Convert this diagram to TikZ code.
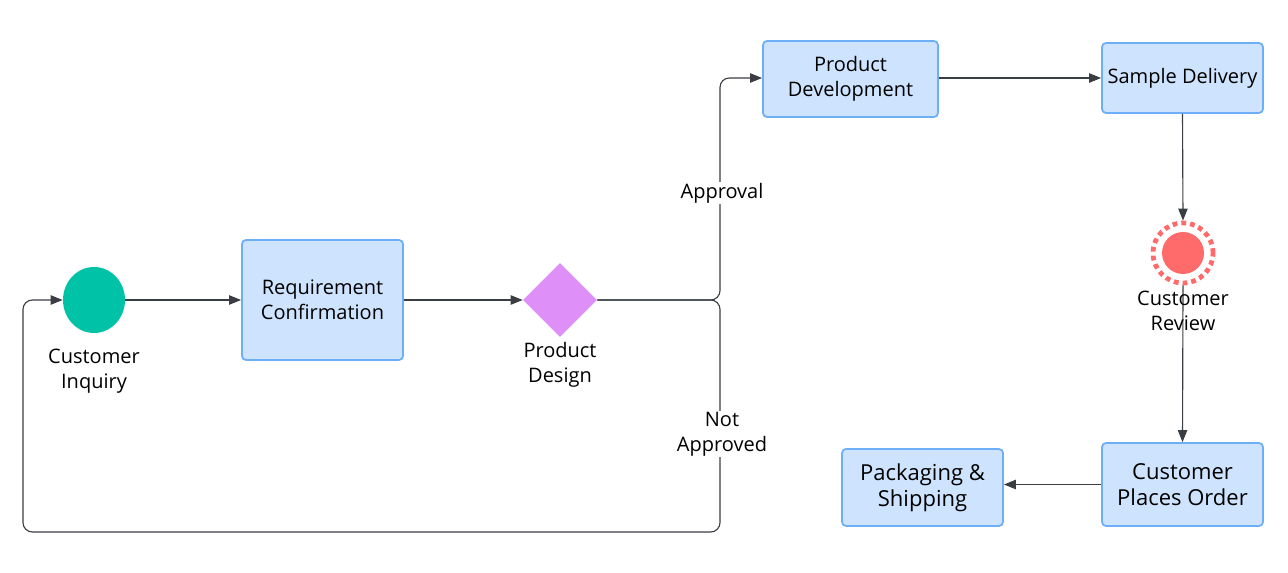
\documentclass[tikz,border=0pt]{standalone}
\usepackage{fontspec}
\setmainfont{Open Sans}
\usetikzlibrary{shapes.geometric,arrows.meta}
\definecolor{boxfill}{HTML}{CEE4FE}
\definecolor{boxdraw}{HTML}{6DAEF8}
\definecolor{teal}{HTML}{00C2A6}
\definecolor{violet}{HTML}{DF8FF8}
\definecolor{revred}{HTML}{FF6B6B}
\definecolor{linec}{HTML}{3A3D42}
\begin{document}
\begin{tikzpicture}[x=0.75pt,y=-0.75pt,
  every node/.style={font=\fontsize{15pt}{18.75pt}\selectfont, align=center, text=black},
  big/.style={font=\fontsize{16.5pt}{19.5pt}\selectfont},
  proc/.style={rectangle, rounded corners=3pt, draw=boxdraw, line width=1.3pt, fill=boxfill, inner sep=0pt},
  flow/.style={draw=linec, line width=0.85pt, -{Triangle[length=9pt,width=7pt]}},
  lbl/.style={fill=white, inner sep=1pt}]
\useasboundingbox (0,0) rectangle (1288,573);

\node[ellipse, fill=teal, inner sep=0pt, minimum width=46.5pt, minimum height=49.5pt] (ci) at (94,300) {};
\node (cil) at (94,371) {Customer\\Inquiry};

\node[proc, minimum width=120.75pt, minimum height=90pt] (rc) at (322.5,300) {Requirement\\Confirmation};

\node[diamond, fill=violet, inner sep=0pt, minimum width=55.5pt, minimum height=55.5pt] (pd) at (560,300) {};
\node (pdl) at (560,365) {Product\\Design};

\node[proc, minimum width=131.25pt, minimum height=57pt] (pdev) at (850.5,79) {Product\\Development};
\node[proc, minimum width=120.75pt, minimum height=52.5pt] (sd) at (1182.5,78) {Sample Delivery};

\node[circle, fill=revred, inner sep=0pt, minimum size=31.5pt] (crin) at (1183,253) {};
\node[circle, draw=revred, line width=3.6pt, dash pattern=on 3.6pt off 3pt, inner sep=0pt, minimum size=45pt] (cr) at (1183,253) {};

\node[proc, big, minimum width=120.75pt, minimum height=62.25pt] (cpo) at (1182.5,484.5) {Customer\\Places Order};
\node[proc, big, minimum width=120.75pt, minimum height=57.75pt] (ps) at (922.5,487.5) {Packaging \&\\Shipping};

\coordinate (j) at (720,300);
\coordinate (jc) at (23,532);

\draw[flow] (ci) -- (rc);
\draw[flow] (rc) -- (pd);
\draw[flow, rounded corners=7pt] (pd.east) -- (j) |- (pdev.west |- 0,78);
\draw[flow, rounded corners=7pt] (pd.east) -- (j) |- (jc) |- (ci.west);
\node[lbl] (appr) at (722,193) {Approval};
\node[lbl] (napp) at (722,434) {Not\\Approved};

\draw[flow] (pdev.east |- 0,78) -- (sd.west);
\draw[flow] (sd.south) -- (cr.north);
\draw[flow] (cr.south) -- (cpo.north);
\node (crl) at (1183,311) {Customer\\Review};
\draw[flow] (cpo.west) -- (ps.east |- cpo.west);
\end{tikzpicture}
\end{document}
